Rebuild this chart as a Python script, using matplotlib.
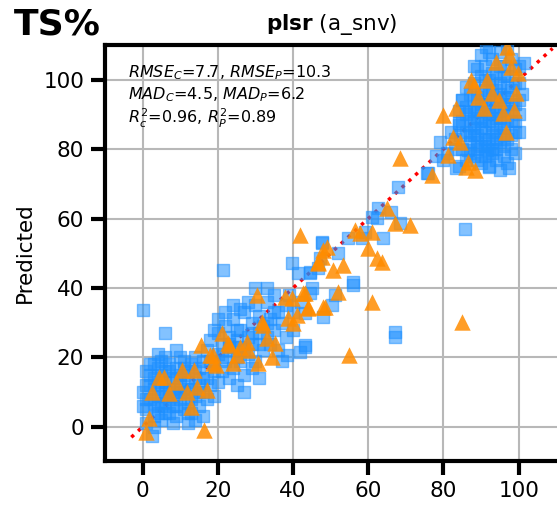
import matplotlib
matplotlib.use("Agg")
import matplotlib.pyplot as plt

# calibration set (measured, predicted)
cal_low = [(0, 10), (1, 12), (1, 5), (2, 8), (2, 15), (2, 18), (3, 3), (3, 11), (3, 14), (4, 6),
           (4, 9), (4, 17), (5, 2), (5, 12), (5, 15), (5, 19), (6, 7), (6, 10), (6, 13), (7, 4),
           (7, 16), (7, 18), (8, 9), (8, 11), (8, 14), (9, 3), (9, 6), (9, 17), (10, 12), (10, 15),
           (10, 8), (11, 5), (11, 10), (11, 19), (12, 13), (12, 16), (12, 7), (13, 11), (13, 4), (13, 18),
           (14, 9), (14, 14), (15, 6), (15, 12), (15, 17), (16, 10), (16, 3), (17, 14), (17, 8), (18, 12),
           (18, 19), (1, 1), (3, 0), (8, 1), (12, 1), (14, 2), (2.4, -2.6), (0, 6), (1, 16), (6, 20),
           (10, 20), (4, 21), (16, 19), (19, 16), (19, 9), (20, 13), (14, 20), (9, 22),
           (2, 12), (3, 7), (4, 13), (5, 9), (6, 16), (7, 11), (8, 6), (9, 14), (10, 10), (11, 15),
           (12, 11), (13, 8), (14, 16), (15, 10), (16, 14), (4, 4), (6, 4), (1, 8), (3, 18), (11, 17),
           (7, 8), (9, 10), (12, 4), (5, 6)]
cal_mid = [(17, 22), (18, 25), (19, 18), (20, 21), (20, 27), (21, 16), (21, 24), (22, 19), (22, 29), (23, 22),
           (23, 26), (24, 17), (24, 31), (25, 20), (25, 25), (26, 23), (26, 28), (27, 15), (27, 33), (28, 21),
           (28, 26), (29, 30), (29, 24), (30, 19), (30, 35), (31, 27), (31, 32), (32, 22), (32, 29), (33, 36),
           (33, 26), (34, 31), (34, 24), (35, 38), (35, 28), (36, 33), (36, 22), (37, 30), (38, 35), (38, 26),
           (39, 38), (40, 33), (40, 28), (24, 35), (26, 34), (28, 36), (22, 33), (20, 31), (30, 40), (33, 40),
           (19, 28), (23, 14), (29, 17), (37, 19), (31, 14), (25, 12), (27, 10),
           (21, 20), (23, 24), (25, 28), (27, 22), (29, 27), (31, 24), (33, 30), (35, 33), (24, 23), (26, 19)]
cal_upper = [(0, 33.7), (5.9, 27.1), (21.3, 45.2), (39.7, 47.3), (41.3, 44.4), (44.5, 44.4), (47.7, 53),
             (41.9, 21.6), (43.2, 23), (38.4, 20.7), (68, 69.2), (75.7, 73.2), (62.7, 63.1), (61, 60.5),
             (62.4, 60.2), (54.7, 54.5), (58.4, 54.5), (64, 54.5), (68.5, 58.8), (47.7, 53.3), (47.2, 48.7),
             (46.7, 45.8), (44.5, 44.7), (56, 41.8), (56, 40.9), (44.5, 38.6), (51.2, 38), (50.4, 35.2),
             (48, 31.7), (43.2, 32.9), (67.2, 27.4), (67.2, 25.9), (43.2, 23.6), (85.6, 57), (42, 36),
             (45, 40), (52, 50), (59, 56), (66, 62)]
cal_high = [(84, 75), (86, 77), (88, 78), (90, 76), (92, 75), (94, 77), (96, 78), (98, 80), (85, 80), (87, 82),
            (89, 80), (91, 81), (93, 80), (95, 82), (97, 83), (99, 85), (86, 85), (88, 84), (90, 86), (92, 83),
            (94, 85), (96, 86), (98, 88), (100, 90), (85, 88), (87, 87), (89, 89), (91, 88), (93, 90), (95, 89),
            (97, 91), (99, 93), (86, 92), (88, 91), (90, 93), (92, 92), (94, 94), (96, 95), (98, 97), (100, 99),
            (87, 96), (89, 95), (91, 97), (93, 98), (95, 99), (97, 101), (99, 103), (88, 99), (90, 101), (92, 100),
            (94, 102), (96, 104), (98, 106), (91, 104), (93, 106), (95, 108), (89, 103), (97, 109), (100, 104),
            (101, 96), (100, 85), (99, 79), (97, 76), (95, 74), (83, 83), (84, 87), (85, 94), (86, 98), (88, 104),
            (90, 107), (92, 108), (96, 101), (94, 97), (92, 96), (90, 91), (88, 88), (89, 84), (91, 85), (93, 87),
            (95, 92), (97, 95), (99, 99), (91, 78), (93, 79), (89, 77), (87, 79), (94, 83), (96, 84), (98, 93),
            (100, 94), (86, 90), (84, 91), (82, 85), (83, 80), (81, 79), (80, 77), (92, 88), (94, 89), (90, 96),
            (88, 94), (96, 90), (98, 91), (91.7, 79.8), (86.4, 79.8), (84, 87.6), (85, 94.2), (86.7, 90.8),
            (91.2, 109.5), (101.3, 104.9), (84.5, 84.1), (97.3, 74.6), (92, 74.9), (83.2, 74.6), (76, 73.2),
            (79, 82), (78, 78),
            (89, 82), (91, 83), (93, 84), (95, 86), (97, 88), (90, 88), (92, 90), (94, 91), (96, 93),
            (89, 91), (91, 93), (93, 94), (95, 96), (97, 98), (91, 100), (93, 102), (95, 104), (90, 81),
            (92, 79), (94, 80), (88, 86), (87, 84), (96, 81), (98, 84), (99, 88)]

# prediction set (measured, predicted)
pred = [(21, 27), (15.5, 23.6), (18, 20.7), (19.5, 17.9), (23, 23.6), (10.4, 16.4), (13.6, 16.4), (4.3, 14.4),
        (5.6, 14.4), (8.8, 13), (2.4, 10.1), (6.9, 9.8), (11.7, 10.1), (14.4, 11.5), (17, 10.7), (13, 5.8),
        (1.6, 2.6), (0.8, -1.4), (16.3, -0.9),
        (41.9, 55.3), (48, 51), (46.7, 47.6), (30.4, 38), (37.9, 37.5), (39.7, 37.2), (42.7, 38.6), (44, 34.6),
        (48, 34.6), (31.7, 30.3), (32, 29.4), (38.7, 31.4), (41, 32.3), (40, 30), (22.7, 24.2), (27.7, 24.5),
        (33, 25.6), (35.2, 24.2), (25.9, 23), (28, 22.2), (18.7, 20.7), (25, 20.7), (34.4, 20.2), (18.7, 18.4),
        (30.7, 18.4), (24, 18.4),
        (68.5, 77.5), (65, 63.1), (67.2, 58.8), (71.2, 58.2), (56.5, 56.8), (57.9, 55.9), (61, 56.2), (60, 51.6),
        (62.4, 48.7), (63.7, 47.6), (49, 51.9), (47.7, 49), (46.7, 47.3), (50.7, 45.2), (53.3, 46.7), (52, 38.9),
        (43.2, 38.6), (44, 34.3), (48.5, 34.6), (61, 36), (55, 20.7), (85, 30.3),
        (97.3, 107.2), (93.9, 105.2), (97.9, 103.7), (99.7, 102), (87.2, 100), (88, 98.6), (91.7, 100),
        (99.2, 96.3), (93, 96.3), (89.3, 95.1), (94.7, 94.2), (90.7, 91.9), (98.7, 91.4), (95.7, 90.5),
        (83.2, 91.9), (80, 89.9), (96.5, 85), (82.4, 83.6), (84.5, 82.1), (81.3, 78.4), (86.4, 76.4),
        (85.9, 74.9), (88.5, 74.1), (77, 72.6), (97, 109.5)]

cal = cal_low + cal_mid + cal_upper + cal_high
cx, cy = zip(*cal)
px, py = zip(*pred)

fig = plt.figure(figsize=(5.57, 5.05), dpi=100)
ax = fig.add_axes([0.1885, 0.0881, 0.8150, 0.8229])

ax.plot([-3, 109], [-3, 109], color='red', linestyle=':', linewidth=2.5, zorder=2)
ax.scatter(cx, cy, marker='s', s=75, color='#1E90FF', alpha=0.55, linewidths=1, zorder=3)
ax.scatter(px, py, marker='^', s=140, color='#FF8C00', alpha=0.85, linewidths=0, zorder=4)

ax.set_xlim(-10, 110.7)
ax.set_ylim(-9.7, 110)
ax.set_xticks([0, 20, 40, 60, 80, 100])
ax.set_yticks([0, 20, 40, 60, 80, 100])
ax.grid(True, color='#b8b8b8', linewidth=1.5, zorder=0)
ax.set_axisbelow(True)
for s in ax.spines.values():
    s.set_linewidth(3)
ax.tick_params(width=3, length=10, labelsize=15.5, pad=5)
ax.set_ylabel('Predicted', fontsize=15.5, labelpad=6)

ax.set_title(r'$\bf{plsr}$ (a_snv)', fontsize=15.5, pad=11)
fig.text(0.025, 0.985, 'TS%', fontsize=26, fontweight='bold', va='top', ha='left')

ax.text(0.05, 0.955,
        '$RMSE_C$=7.7, $RMSE_P$=10.3\n$MAD_C$=4.5, $MAD_P$=6.2\n$R^2_c$=0.96, $R^2_P$=0.89',
        transform=ax.transAxes, fontsize=11.5, va='top', ha='left', linespacing=1.2)

fig.savefig('out.png', dpi=100)
